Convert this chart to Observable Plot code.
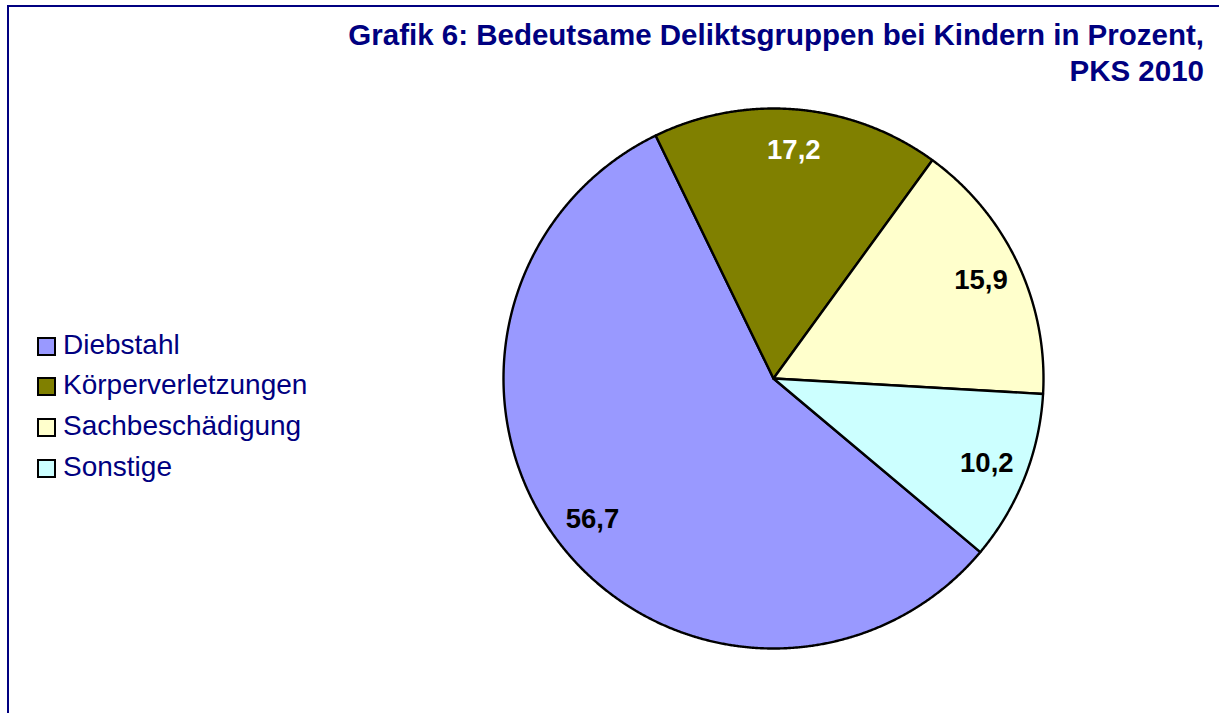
<!DOCTYPE html>
<html><head><meta charset="utf-8">
<script src="https://cdn.jsdelivr.net/npm/d3@7"></script>
<script src="https://cdn.jsdelivr.net/npm/@observablehq/plot@0.6"></script>
<style>
html,body{margin:0;padding:0;background:#fff;}
body{font-family:"Liberation Sans",Arial,sans-serif;}
#wrap{position:relative;width:1219px;height:713px;overflow:hidden;background:#fff;}
#frame{position:absolute;left:7px;top:5px;width:1260px;height:760px;border:2.5px solid #000080;box-sizing:border-box;}
#chart{position:absolute;left:0;top:0;}
#title{position:absolute;right:15px;top:17px;text-align:right;color:#000080;font-weight:bold;font-size:29.5px;line-height:36px;white-space:nowrap;}
.lg{position:absolute;left:37px;height:32px;line-height:32px;font-size:28px;color:#000080;white-space:nowrap;}
.sw{position:absolute;left:0;top:8px;width:15px;height:15px;border:2px solid #000;}
.lt{position:absolute;left:26px;top:0;}
</style>
</head><body>
<div id="wrap">
  <div id="frame"></div>
  <div id="chart"></div>
  <div id="title">Grafik 6: Bedeutsame Deliktsgruppen bei Kindern in Prozent,<br>PKS 2010</div>
  <div id="legend"></div>
</div>
<script>
const categories = ["Diebstahl", "Körperverletzungen", "Sachbeschädigung", "Sonstige"];
const values = [56.7, 17.2, 15.9, 10.2];
const valueLabels = ["56,7", "17,2", "15,9", "10,2"];
const colors = ["#9999FF", "#808000", "#FFFFCC", "#CCFFFF"];
const labelColors = ["#000000", "#ffffff", "#000000", "#000000"];

const W = 1219, H = 713, CX = 773, CY = 378, R = 270;
const startDeg = 130;
const a0 = startDeg * Math.PI / 180;

const data = categories.map((c, i) => ({cat: c, value: values[i], label: valueLabels[i], tc: labelColors[i]}));
const arcs = d3.pie().sort(null).value(d => d.value).startAngle(a0).endAngle(a0 + 2 * Math.PI)(data);

// outline points of each slice (center -> arc -> center), in unit-circle coordinates
const pts = [];
for (const a of arcs) {
  const cat = a.data.cat;
  pts.push({cat, x: 0, y: 0});
  const n = Math.max(2, Math.ceil((a.endAngle - a.startAngle) / (0.25 * Math.PI / 180)));
  for (let k = 0; k <= n; k++) {
    const t = a.startAngle + (a.endAngle - a.startAngle) * k / n;
    pts.push({cat, x: Math.sin(t), y: Math.cos(t)});
  }
  pts.push({cat, x: 0, y: 0});
}
const lr = 0.85;
const labelPts = arcs.map(a => {
  const m = (a.startAngle + a.endAngle) / 2;
  return {x: lr * Math.sin(m), y: lr * Math.cos(m), text: a.data.label, tc: a.data.tc};
});

const plot = Plot.plot({
  width: W, height: H, margin: 0,
  style: {fontFamily: "Liberation Sans, Arial, sans-serif", background: "transparent"},
  x: {domain: [-CX / R, (W - CX) / R], axis: null},
  y: {domain: [-(H - CY) / R, CY / R], axis: null},
  color: {domain: categories, range: colors},
  marks: [
    Plot.line(pts, {x: "x", y: "y", z: "cat", fill: "cat", stroke: "#000", strokeWidth: 2.4, strokeLinejoin: "round", curve: "linear"}),
    Plot.text(labelPts.filter(d => d.tc === "#000000"), {x: "x", y: "y", text: "text", fill: "#000000", fontSize: 27.5, fontWeight: "bold"}),
    Plot.text(labelPts.filter(d => d.tc !== "#000000"), {x: "x", y: "y", text: "text", fill: "#ffffff", fontSize: 27.5, fontWeight: "bold"})
  ]
});
document.getElementById("chart").appendChild(plot);

const legend = document.getElementById("legend");
categories.forEach((c, i) => {
  const row = document.createElement("div");
  row.className = "lg";
  row.style.top = (328.5 + i * 40.8) + "px";
  const sw = document.createElement("span");
  sw.className = "sw";
  sw.style.background = colors[i];
  const t = document.createElement("span");
  t.className = "lt";
  t.textContent = c;
  row.appendChild(sw); row.appendChild(t);
  legend.appendChild(row);
});
</script>
</body></html>
